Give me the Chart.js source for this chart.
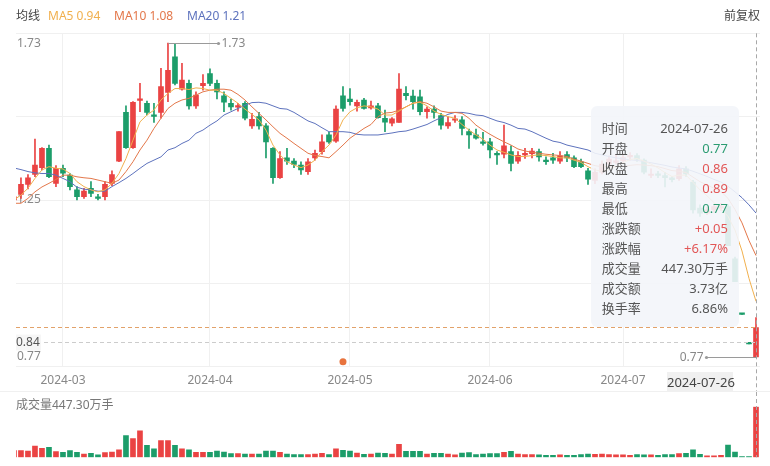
<!DOCTYPE html>
<html><head><meta charset="utf-8">
<script src="https://cdn.jsdelivr.net/npm/chart.js@4"></script>
<style>
body{margin:0;background:#fff;}
#wrap{position:relative;width:770px;height:466px;overflow:hidden;font-family:'Noto Sans','Noto Sans CJK SC',sans-serif;}
.abs{position:absolute;white-space:nowrap;}
#main{position:absolute;left:0;top:0;}
#vol{position:absolute;left:0;top:392px;}
.lg{font-size:12px;line-height:18px;top:7px;}
#sep{left:0;top:391px;width:770px;height:1px;background:#f0f0f0;}
#vlab{left:16px;top:396px;font-size:12px;line-height:18px;color:#777;}
#tip{left:591px;top:106px;width:148px;height:221px;border-radius:6px;background:rgba(243,245,249,0.9);}
.row{position:absolute;left:10.7px;right:11px;height:20px;line-height:20px;font-size:13px;color:#555;}
.row span{position:absolute;right:0;top:0;}
#dbox{left:667px;top:372px;width:66px;height:20px;line-height:20px;background:#f0f0f0;color:#444;font-size:13px;text-align:center;}
</style></head>
<body><div id="wrap">
<canvas id="main" width="770" height="392"></canvas>
<div id="sep" class="abs"></div>
<canvas id="vol" width="770" height="74"></canvas>
<div id="lg0" class="abs lg" style="left:16px;color:#444">均线</div>
<div id="lg5" class="abs lg" style="left:48px"></div>
<div id="lg10" class="abs lg" style="left:114px"></div>
<div id="lg20" class="abs lg" style="left:187px"></div>
<div class="abs lg" style="right:10px;color:#444">前复权</div>
<div id="vlab" class="abs"></div>
<div id="tip" class="abs"></div>
<div id="dbox" class="abs"></div>
</div>
<script>
const dates = ['2024-02-21','2024-02-22','2024-02-23','2024-02-26','2024-02-27','2024-02-28','2024-02-29',
'2024-03-01','2024-03-04','2024-03-05','2024-03-06','2024-03-07','2024-03-08','2024-03-11','2024-03-12','2024-03-13','2024-03-14','2024-03-15','2024-03-18','2024-03-19','2024-03-20','2024-03-21','2024-03-22','2024-03-25','2024-03-26','2024-03-27','2024-03-28','2024-03-29',
'2024-04-01','2024-04-02','2024-04-03','2024-04-08','2024-04-09','2024-04-10','2024-04-11','2024-04-12','2024-04-15','2024-04-16','2024-04-17','2024-04-18','2024-04-19','2024-04-22','2024-04-23','2024-04-24','2024-04-25','2024-04-26','2024-04-29','2024-04-30',
'2024-05-06','2024-05-07','2024-05-08','2024-05-09','2024-05-10','2024-05-13','2024-05-14','2024-05-15','2024-05-16','2024-05-17','2024-05-20','2024-05-21','2024-05-22','2024-05-23','2024-05-24','2024-05-27','2024-05-28','2024-05-29','2024-05-30','2024-05-31',
'2024-06-03','2024-06-04','2024-06-05','2024-06-06','2024-06-07','2024-06-11','2024-06-12','2024-06-13','2024-06-14','2024-06-17','2024-06-18','2024-06-19','2024-06-20','2024-06-21','2024-06-24','2024-06-25','2024-06-26','2024-06-27','2024-06-28',
'2024-07-01','2024-07-02','2024-07-03','2024-07-04','2024-07-05','2024-07-08','2024-07-09','2024-07-10','2024-07-11','2024-07-12','2024-07-15','2024-07-16','2024-07-17','2024-07-18','2024-07-19','2024-07-22','2024-07-23','2024-07-24','2024-07-25','2024-07-26'];

const open = [1.250,1.267,1.298,1.328,1.349,1.408,1.301,1.347,1.326,1.281,1.260,1.286,1.258,1.260,1.301,1.369,1.518,1.410,1.555,1.546,1.510,1.518,1.579,1.688,1.589,1.607,1.538,1.600,1.637,1.607,1.569,1.546,1.534,1.546,1.477,1.505,1.477,1.408,1.318,1.379,1.369,1.357,1.337,1.379,1.398,1.449,1.430,1.569,1.559,1.538,1.556,1.532,1.538,1.500,1.485,1.487,1.576,1.568,1.566,1.520,1.528,1.508,1.477,1.494,1.495,1.459,1.449,1.428,1.428,1.393,1.390,1.398,1.369,1.388,1.392,1.398,1.372,1.379,1.369,1.389,1.379,1.367,1.339,1.310,1.335,1.360,1.365,1.370,1.382,1.386,1.372,1.325,1.330,1.325,1.318,1.315,1.345,1.305,1.225,1.210,1.220,1.225,1.230,1.070,0.900,0.810,0.770];
const high = [1.280,1.318,1.328,1.436,1.410,1.418,1.355,1.357,1.331,1.291,1.286,1.306,1.267,1.306,1.339,1.459,1.538,1.551,1.607,1.553,1.546,1.653,1.730,1.726,1.668,1.617,1.581,1.634,1.651,1.617,1.581,1.559,1.546,1.551,1.515,1.518,1.484,1.410,1.398,1.408,1.377,1.367,1.377,1.403,1.449,1.457,1.538,1.597,1.591,1.556,1.561,1.553,1.546,1.525,1.502,1.637,1.597,1.586,1.586,1.535,1.538,1.515,1.505,1.508,1.505,1.467,1.467,1.457,1.439,1.398,1.479,1.416,1.398,1.408,1.408,1.406,1.382,1.393,1.398,1.398,1.385,1.375,1.347,1.345,1.370,1.385,1.390,1.392,1.395,1.392,1.376,1.345,1.338,1.335,1.322,1.355,1.352,1.310,1.235,1.228,1.235,1.240,1.235,1.075,0.900,0.810,0.890];
const low = [1.230,1.255,1.284,1.321,1.342,1.318,1.291,1.321,1.281,1.250,1.255,1.260,1.250,1.250,1.294,1.367,1.408,1.408,1.520,1.510,1.487,1.500,1.551,1.602,1.586,1.528,1.530,1.586,1.600,1.559,1.520,1.525,1.522,1.495,1.469,1.467,1.379,1.301,1.316,1.359,1.349,1.328,1.328,1.372,1.390,1.423,1.426,1.522,1.540,1.522,1.528,1.528,1.500,1.459,1.477,1.487,1.556,1.528,1.510,1.500,1.500,1.467,1.469,1.487,1.449,1.408,1.436,1.418,1.379,1.359,1.379,1.339,1.362,1.377,1.379,1.369,1.359,1.362,1.362,1.367,1.349,1.349,1.298,1.300,1.330,1.350,1.360,1.365,1.372,1.368,1.330,1.318,1.318,1.290,1.305,1.310,1.322,1.210,1.200,1.205,1.212,1.218,1.110,1.000,0.900,0.810,0.770];
const close = [1.260,1.298,1.318,1.357,1.408,1.321,1.347,1.332,1.291,1.260,1.277,1.270,1.255,1.298,1.328,1.459,1.410,1.549,1.559,1.518,1.506,1.597,1.647,1.607,1.617,1.538,1.571,1.607,1.607,1.581,1.549,1.535,1.538,1.500,1.497,1.477,1.428,1.318,1.377,1.369,1.359,1.342,1.367,1.393,1.428,1.428,1.528,1.530,1.551,1.549,1.530,1.538,1.502,1.488,1.498,1.589,1.569,1.551,1.520,1.528,1.518,1.479,1.487,1.498,1.469,1.449,1.439,1.423,1.403,1.388,1.416,1.362,1.387,1.393,1.400,1.382,1.367,1.372,1.385,1.379,1.352,1.352,1.314,1.335,1.360,1.375,1.370,1.380,1.386,1.375,1.335,1.328,1.325,1.318,1.312,1.345,1.330,1.220,1.210,1.220,1.230,1.230,1.110,1.000,0.900,0.810,0.860];
const volume = [59,59,56,100,80,88,50,44,59,44,29,35,21,41,47,65,192,165,233,106,74,147,147,106,74,65,44,44,44,56,47,32,32,29,29,29,56,56,44,29,24,24,24,29,35,24,74,62,56,38,27,29,38,35,29,115,53,53,53,29,35,35,29,21,38,41,24,29,32,32,44,53,29,24,24,21,18,18,21,18,18,24,29,27,29,24,21,21,18,24,21,21,18,24,24,32,35,65,27,12,12,18,109,47,6,6,447.30];
const ma5 = [1.250,1.265,1.286,1.316,1.342,1.352,1.347,1.345,1.331,1.306,1.291,1.281,1.275,1.281,1.301,1.331,1.377,1.433,1.489,1.510,1.525,1.556,1.576,1.591,1.591,1.588,1.593,1.591,1.586,1.586,1.576,1.561,1.546,1.528,1.512,1.495,1.464,1.418,1.388,1.367,1.357,1.349,1.357,1.372,1.398,1.418,1.449,1.495,1.520,1.532,1.538,1.535,1.528,1.510,1.510,1.522,1.535,1.546,1.549,1.538,1.522,1.512,1.505,1.500,1.481,1.464,1.449,1.436,1.418,1.403,1.396,1.388,1.383,1.383,1.386,1.388,1.386,1.383,1.379,1.379,1.372,1.365,1.352,1.342,1.338,1.343,1.352,1.364,1.374,1.377,1.369,1.360,1.348,1.334,1.322,1.326,1.326,1.304,1.281,1.263,1.242,1.222,1.200,1.158,1.094,1.010,0.940];
const ma10 = [1.240,1.240,1.255,1.275,1.290,1.301,1.313,1.326,1.326,1.321,1.318,1.316,1.311,1.306,1.301,1.311,1.337,1.367,1.403,1.433,1.469,1.500,1.530,1.546,1.556,1.561,1.571,1.581,1.586,1.589,1.589,1.586,1.573,1.556,1.535,1.515,1.495,1.474,1.454,1.439,1.423,1.408,1.393,1.386,1.383,1.379,1.398,1.418,1.439,1.454,1.469,1.481,1.505,1.516,1.518,1.525,1.535,1.546,1.551,1.546,1.535,1.522,1.518,1.518,1.515,1.500,1.479,1.464,1.451,1.439,1.428,1.418,1.406,1.400,1.396,1.393,1.390,1.388,1.386,1.383,1.375,1.369,1.362,1.355,1.352,1.352,1.352,1.353,1.356,1.358,1.357,1.355,1.352,1.346,1.340,1.338,1.334,1.320,1.306,1.296,1.286,1.276,1.255,1.221,1.180,1.126,1.080];
const ma20 = [1.348,1.343,1.337,1.333,1.331,1.331,1.326,1.316,1.306,1.289,1.283,1.281,1.277,1.277,1.291,1.303,1.316,1.331,1.347,1.362,1.372,1.382,1.403,1.410,1.423,1.433,1.454,1.464,1.479,1.492,1.510,1.520,1.530,1.540,1.548,1.549,1.546,1.538,1.530,1.528,1.518,1.505,1.492,1.484,1.471,1.459,1.459,1.459,1.457,1.451,1.449,1.449,1.449,1.452,1.455,1.459,1.461,1.467,1.474,1.481,1.492,1.502,1.512,1.518,1.518,1.515,1.510,1.508,1.500,1.492,1.487,1.479,1.469,1.467,1.459,1.449,1.439,1.430,1.426,1.418,1.413,1.408,1.403,1.393,1.388,1.383,1.379,1.376,1.373,1.371,1.368,1.364,1.360,1.356,1.351,1.348,1.345,1.338,1.330,1.322,1.313,1.305,1.292,1.275,1.257,1.235,1.210];
const eventIndex = 47;              // marker dot under the candles
const cursorPrice = 0.815;          // horizontal crosshair position
const cursorText = '0.84';
const amountText = '3.73亿';
const turnoverText = '6.86%';

const RED = '#ea4343', GREEN = '#1c9d6a';
const C5 = '#f1b04e', C10 = '#e3774a', C20 = '#5d72bd';
const FONT = "'Noto Sans','Noto Sans CJK SC',sans-serif";
Chart.defaults.font.family = FONT;

const idx = close.map((_, i) => i);
const last = close.length - 1;
const isUp = i => close[i] > open[i] || (close[i] === open[i] && i > 0 && close[i] >= close[i - 1]);
const colAt = ctx => isUp(ctx.dataIndex) ? RED : GREEN;
const monthStarts = idx.filter(i => i > 0 && dates[i].slice(0, 7) !== dates[i - 1].slice(0, 7));
const hiVal = Math.max(...high), hiIdx = high.indexOf(hiVal);
const loVal = Math.min(...low), loIdx = low.lastIndexOf(loVal);
const span = hiVal - loVal;
const yMin = loVal - span / 32, yMax = hiVal + span / 32;
const gridVals = [0, 1, 2, 3, 4].map(k => yMin + (yMax - yMin) * k / 4);
const labVals = [hiVal, (hiVal + loVal) / 2, loVal];
const xMin = 0.29, xMax = last + 0.57;

// legend / html texts
document.getElementById('lg5').textContent = 'MA5 ' + ma5[last].toFixed(2);
document.getElementById('lg5').style.color = C5;
document.getElementById('lg10').textContent = 'MA10 ' + ma10[last].toFixed(2);
document.getElementById('lg10').style.color = C10;
document.getElementById('lg20').textContent = 'MA20 ' + ma20[last].toFixed(2);
document.getElementById('lg20').style.color = C20;
document.getElementById('vlab').textContent = '成交量' + volume[last].toFixed(2) + '万手';
document.getElementById('dbox').textContent = dates[last];

const prev = close[last - 1];
const chg = close[last] - prev;
const tc = v => v > prev ? '#e25656' : (v < prev ? '#2b9c72' : '#555');
const rows = [
  ['时间', dates[last], '#555'],
  ['开盘', open[last].toFixed(2), tc(open[last])],
  ['收盘', close[last].toFixed(2), tc(close[last])],
  ['最高', high[last].toFixed(2), tc(high[last])],
  ['最低', low[last].toFixed(2), tc(low[last])],
  ['涨跌额', (chg >= 0 ? '+' : '') + chg.toFixed(2), chg >= 0 ? '#e25656' : '#2b9c72'],
  ['涨跌幅', (chg >= 0 ? '+' : '') + (chg / prev * 100).toFixed(2) + '%', chg >= 0 ? '#e25656' : '#2b9c72'],
  ['成交量', volume[last].toFixed(2) + '万手', '#555'],
  ['成交额', amountText, '#555'],
  ['换手率', turnoverText, '#555']
];
const tip = document.getElementById('tip');
rows.forEach((r, k) => {
  const d = document.createElement('div');
  d.className = 'row';
  d.style.top = (11.7 + 20 * k) + 'px';
  d.textContent = r[0];
  const s = document.createElement('span');
  s.textContent = r[1];
  s.style.color = r[2];
  d.appendChild(s);
  tip.appendChild(d);
});

function dashedLine(ctx, x1, y1, x2, y2, color) {
  ctx.save();
  ctx.setLineDash([4, 3]);
  ctx.lineWidth = 1;
  ctx.strokeStyle = color;
  ctx.beginPath(); ctx.moveTo(x1, y1); ctx.lineTo(x2, y2); ctx.stroke();
  ctx.restore();
}

const overlay = {
  id: 'overlay',
  afterDatasetsDraw(chart) {
    const { ctx, chartArea: a, scales: { x, y } } = chart;
    const xl = Math.round(x.getPixelForValue(last)) + 0.5;
    ctx.save();
    // event marker
    ctx.fillStyle = '#e8733d';
    ctx.beginPath(); ctx.arc(x.getPixelForValue(eventIndex), a.bottom - 5, 3.5, 0, Math.PI * 2); ctx.fill();
    // last price line
    const yc = Math.round(y.getPixelForValue(close[last])) + 0.5;
    dashedLine(ctx, a.left, yc, xl, yc, '#e2a26a');
    // cursor lines
    const yk = Math.round(y.getPixelForValue(cursorPrice)) + 0.5;
    dashedLine(ctx, a.left, yk, xl, yk, '#cccccc');
    dashedLine(ctx, xl, a.top, xl, chart.height, '#a8a8a8');
    // high marker
    ctx.strokeStyle = '#9a9a9a'; ctx.fillStyle = '#9a9a9a'; ctx.lineWidth = 1;
    const xh = Math.round(x.getPixelForValue(hiIdx)) + 0.5, yh = Math.round(y.getPixelForValue(hiVal)) + 0.5;
    ctx.beginPath(); ctx.moveTo(xh, yh); ctx.lineTo(xh + 50, yh); ctx.stroke();
    ctx.beginPath(); ctx.arc(xh + 50, yh, 1.6, 0, Math.PI * 2); ctx.fill();
    ctx.font = '12px ' + FONT; ctx.textBaseline = 'middle';
    ctx.fillStyle = '#888'; ctx.textAlign = 'left';
    ctx.fillText(hiVal.toFixed(2), xh + 53, yh);
    // low marker
    const xo = Math.round(x.getPixelForValue(loIdx)) + 0.5, yo = Math.round(y.getPixelForValue(loVal)) + 0.5;
    ctx.fillStyle = '#9a9a9a';
    ctx.beginPath(); ctx.moveTo(xo, yo); ctx.lineTo(xo - 50, yo); ctx.stroke();
    ctx.beginPath(); ctx.arc(xo - 50, yo, 1.6, 0, Math.PI * 2); ctx.fill();
    ctx.fillStyle = '#888'; ctx.textAlign = 'right';
    ctx.fillText(loVal.toFixed(2), xo - 53, yo);
    // cursor label
    ctx.fillStyle = 'rgba(246,246,246,0.95)';
    ctx.fillRect(a.left, yk - 8, 25, 16);
    ctx.fillStyle = '#555'; ctx.textAlign = 'left';
    ctx.fillText(cursorText, a.left, yk);
    ctx.restore();
  }
};

new Chart(document.getElementById('main'), {
  data: {
    datasets: [
      { type: 'line', data: idx.map(i => ({ x: i, y: ma5[i] })), borderColor: C5, borderWidth: 1, pointRadius: 0, tension: 0, clip: 0, order: 0 },
      { type: 'line', data: idx.map(i => ({ x: i, y: ma10[i] })), borderColor: C10, borderWidth: 1, pointRadius: 0, tension: 0, clip: 0, order: 0 },
      { type: 'line', data: idx.map(i => ({ x: i, y: ma20[i] })), borderColor: C20, borderWidth: 1, pointRadius: 0, tension: 0, clip: 0, order: 0 },
      { type: 'bar', data: idx.map(i => ({ x: i, y: [open[i], close[i]] })), backgroundColor: colAt, barThickness: 5, minBarLength: 1.5, grouped: false, clip: 0, order: 1 },
      { type: 'bar', data: idx.map(i => ({ x: i, y: [low[i], high[i]] })), backgroundColor: colAt, barThickness: 1, grouped: false, clip: 0, order: 2 }
    ]
  },
  options: {
    responsive: false, animation: false, events: [],
    layout: { padding: { left: 16, right: 10, top: 33.3, bottom: 0 } },
    plugins: { legend: { display: false }, tooltip: { enabled: false } },
    scales: {
      x: {
        type: 'linear', min: xMin, max: xMax, offset: false,
        afterBuildTicks: s => { s.ticks = monthStarts.map(v => ({ value: v })); },
        afterFit: s => { s.height = 25.3; },
        ticks: { autoSkip: false, maxRotation: 0, padding: 7, color: '#888', font: { size: 12 },
          callback: v => dates[v] ? dates[v].slice(0, 7) : '' },
        grid: { color: '#f0f0f0', drawTicks: false, offset: false },
        border: { display: false }
      },
      y: {
        type: 'linear', position: 'left', min: yMin, max: yMax,
        afterBuildTicks: s => { s.ticks = gridVals.map(v => ({ value: v })); },
        afterFit: s => { s.width = 0; },
        ticks: { display: false },
        grid: { color: '#f0f0f0', drawTicks: false },
        border: { display: false }
      },
      yLab: {
        type: 'linear', position: 'left', min: yMin, max: yMax,
        afterBuildTicks: s => { s.ticks = labVals.map(v => ({ value: v })); },
        afterFit: s => { s.width = 0; },
        ticks: { mirror: true, padding: 1, color: '#888', font: { size: 12 }, callback: v => v.toFixed(2) },
        grid: { display: false },
        border: { display: false }
      }
    }
  },
  plugins: [overlay]
});

const volOverlay = {
  id: 'volOverlay',
  afterDatasetsDraw(chart) {
    const { ctx, chartArea: a, scales: { x } } = chart;
    const xl = Math.round(x.getPixelForValue(last)) + 0.5;
    dashedLine(ctx, xl, 0, xl, a.bottom, '#a8a8a8');
  }
};

new Chart(document.getElementById('vol'), {
  type: 'bar',
  data: { datasets: [{ data: idx.map(i => ({ x: i, y: volume[i] })), backgroundColor: colAt, barThickness: 5, clip: 0 }] },
  options: {
    responsive: false, animation: false, events: [],
    layout: { padding: { left: 16, right: 10, top: 14.7, bottom: 8.7 } },
    plugins: { legend: { display: false }, tooltip: { enabled: false } },
    scales: {
      x: { type: 'linear', min: xMin, max: xMax, offset: false, display: false },
      y: { min: 0, max: Math.max(...volume), display: false }
    }
  },
  plugins: [volOverlay]
});
</script>
</body></html>
